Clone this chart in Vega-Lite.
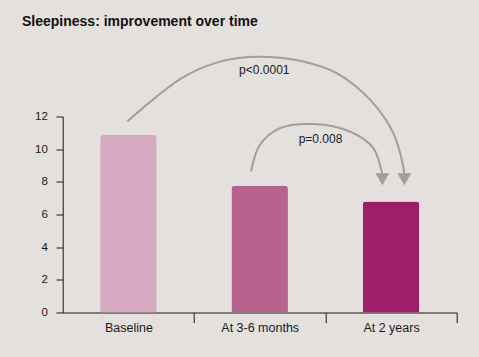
{
  "$schema": "https://vega.github.io/schema/vega-lite/v6.json",
  "autosize": {"type": "none"},
  "width": 394,
  "height": 196,
  "padding": {"left": 62.7, "top": 116.5, "right": 22.3, "bottom": 44.5},
  "background": "#e3e0dd",
  "config": {
    "view": {"stroke": null},
    "font": "Liberation Sans",
    "axisY": {
      "title": null, "values": [0, 2, 4, 6, 8, 10, 12], "grid": false, "labelOverlap": false,
      "labelFontSize": 11.5, "labelColor": "#1a1a1a", "labelFont": "Liberation Sans",
      "domainColor": "#1a1a1a", "tickColor": "#1a1a1a", "tickSize": 6.7, "labelPadding": 8.7
    }
  },
  "title": {
    "text": "Sleepiness: improvement over time",
    "frame": "group",
    "anchor": "start",
    "baseline": "alphabetic",
    "dx": -40.7,
    "offset": 13,
    "fontSize": 14,
    "fontWeight": "bold",
    "font": "Liberation Sans",
    "color": "#111111"
  },
  "datasets": {
    "bars": [
      {"period": "Baseline", "score": 10.86},
      {"period": "At 3-6 months", "score": 7.76},
      {"period": "At 2 years", "score": 6.8}
    ],
    "arcs": [
      {"arc": "big", "pos": 0.492, "val": 11.7},
      {"arc": "big", "pos": 0.906, "val": 14.35},
      {"arc": "big", "pos": 1.16, "val": 15.27},
      {"arc": "big", "pos": 1.413, "val": 15.64},
      {"arc": "big", "pos": 1.578, "val": 15.64},
      {"arc": "big", "pos": 1.832, "val": 15.37},
      {"arc": "big", "pos": 2.086, "val": 14.66},
      {"arc": "big", "pos": 2.34, "val": 13.03},
      {"arc": "big", "pos": 2.517, "val": 10.99},
      {"arc": "big", "pos": 2.593, "val": 8.94},
      {"arc": "big", "pos": 2.601, "val": 8.43},
      {"arc": "small", "pos": 1.434, "val": 8.63},
      {"arc": "small", "pos": 1.502, "val": 10.27},
      {"arc": "small", "pos": 1.655, "val": 11.29},
      {"arc": "small", "pos": 1.908, "val": 11.54},
      {"arc": "small", "pos": 2.187, "val": 11.08},
      {"arc": "small", "pos": 2.365, "val": 10.07},
      {"arc": "small", "pos": 2.429, "val": 8.63},
      {"arc": "small", "pos": 2.434, "val": 8.43}
    ],
    "arrows": [
      {"pos": 2.434, "val": 8.16},
      {"pos": 2.601, "val": 8.16}
    ],
    "labels": [
      {"pos": 1.535, "val": 14.86, "text": "p<0.0001"},
      {"pos": 1.963, "val": 10.62, "text": "p=0.008"}
    ]
  },
  "resolve": {"scale": {"x": "independent"}},
  "layer": [
    {
      "data": {"name": "bars"},
      "mark": {"type": "bar", "width": {"band": 0.43}, "cornerRadiusTopLeft": 3, "cornerRadiusTopRight": 3},
      "encoding": {
        "x": {
          "field": "period", "type": "nominal", "sort": null,
          "scale": {"paddingInner": 0, "paddingOuter": 0},
          "axis": {
            "title": null, "labelAngle": 0, "labelFontSize": 12.5, "labelColor": "#1a1a1a",
            "labelFont": "Liberation Sans",
            "domainColor": "#1a1a1a", "tickColor": "#1a1a1a", "tickSize": 10,
            "tickOffset": 65.67, "labelOffset": -65.67, "labelPadding": -1
          }
        },
        "y": {
          "field": "score", "type": "quantitative",
          "scale": {"domain": [0, 12], "nice": false},
          "axis": {"values": [0, 2, 4, 6, 8, 10, 12], "title": null}
        },
        "color": {
          "field": "period", "type": "nominal", "sort": null, "legend": null,
          "scale": {"domain": ["Baseline", "At 3-6 months", "At 2 years"], "range": ["#d6a9c1", "#b8638e", "#9e1e67"]}
        }
      }
    },
    {
      "data": {"name": "arcs"},
      "mark": {"type": "line", "interpolate": "catmull-rom", "stroke": "#a09f9d", "strokeWidth": 2, "clip": false},
      "encoding": {
        "x": {"field": "pos", "type": "quantitative", "scale": {"domain": [0, 3], "nice": false, "zero": false}, "axis": null},
        "y": {"field": "val", "type": "quantitative", "axis": {"values": [0, 2, 4, 6, 8, 10, 12], "title": null}},
        "detail": {"field": "arc"}
      }
    },
    {
      "data": {"name": "arrows"},
      "mark": {"type": "point", "shape": "triangle-down", "filled": true, "size": 196, "color": "#a09f9d", "opacity": 1},
      "encoding": {
        "x": {"field": "pos", "type": "quantitative", "scale": {"domain": [0, 3], "nice": false, "zero": false}, "axis": null},
        "y": {"field": "val", "type": "quantitative", "axis": {"values": [0, 2, 4, 6, 8, 10, 12], "title": null}}
      }
    },
    {
      "data": {"name": "labels"},
      "mark": {"type": "text", "fontSize": 12, "font": "Liberation Sans", "color": "#1a1a1a", "baseline": "middle"},
      "encoding": {
        "x": {"field": "pos", "type": "quantitative", "scale": {"domain": [0, 3], "nice": false, "zero": false}, "axis": null},
        "y": {"field": "val", "type": "quantitative", "axis": {"values": [0, 2, 4, 6, 8, 10, 12], "title": null}},
        "text": {"field": "text"}
      }
    }
  ]
}
